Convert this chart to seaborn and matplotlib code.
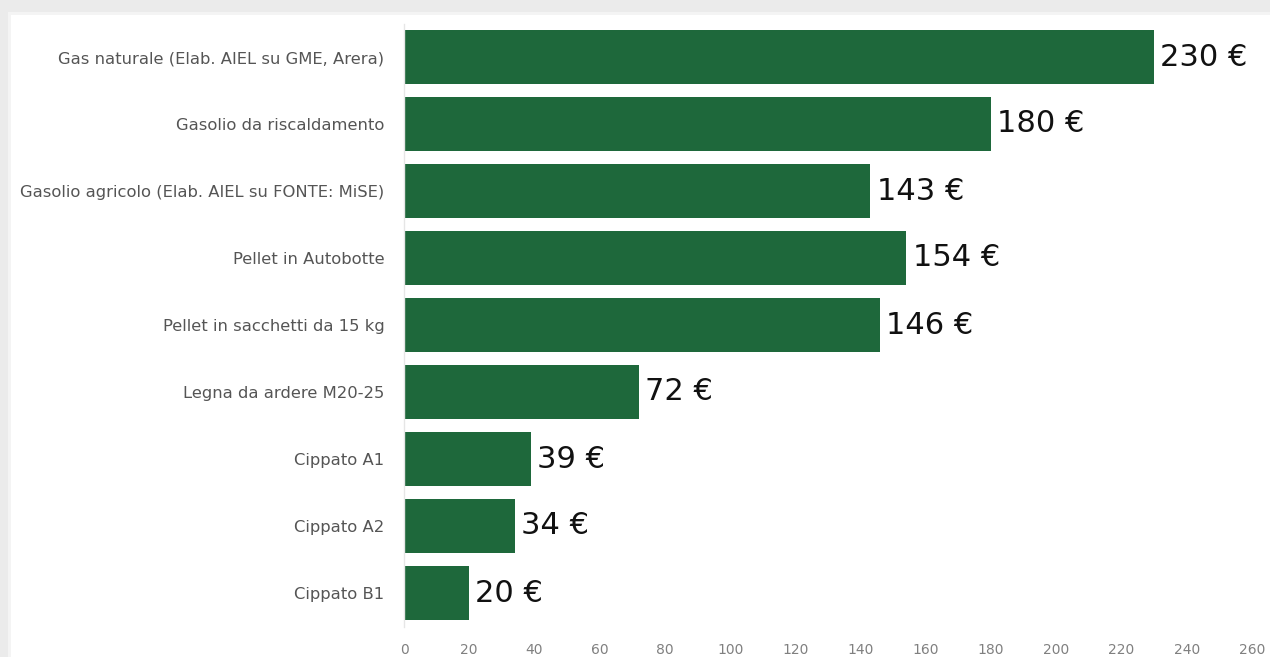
import matplotlib
matplotlib.use("Agg")
import matplotlib.pyplot as plt
import seaborn as sns
import pandas as pd
from matplotlib.patches import Rectangle

categories = [
    "Gas naturale (Elab. AIEL su GME, Arera)",
    "Gasolio da riscaldamento",
    "Gasolio agricolo (Elab. AIEL su FONTE: MiSE)",
    "Pellet in Autobotte",
    "Pellet in sacchetti da 15 kg",
    "Legna da ardere M20-25",
    "Cippato A1",
    "Cippato A2",
    "Cippato B1",
]
values = [230, 180, 143, 154, 146, 72, 39, 34, 20]
xticks = list(range(0, 261, 20))

df = pd.DataFrame({"cat": categories, "val": values})

sns.set_theme(style="white")
plt.rcParams["font.family"] = ["DejaVu Sans"]

W, H = 1270, 657
fig = plt.figure(figsize=(W / 100, H / 100), dpi=100, facecolor="#ebebeb")
# card background
fig.patches.append(Rectangle((8 / W, 0), 1, 1 - 12 / H, transform=fig.transFigure,
                             facecolor="#f4f4f4", edgecolor="none", zorder=-2))
fig.patches.append(Rectangle((11 / W, 0), 1, 1 - 15 / H, transform=fig.transFigure,
                             facecolor="white", edgecolor="none", zorder=-1))

ax = fig.add_axes([404 / W, 1 - 626.5 / H, (1252 - 404) / W, (626.5 - 23.5) / H])
ax.set_facecolor("none")

sns.barplot(data=df, y="cat", x="val", color="#1e683b", orient="h", width=0.82,
            saturation=1, linewidth=0, ax=ax)

for c in ax.containers:
    ax.bar_label(c, labels=[f"{v} €" for v in values], padding=4.5,
                 fontsize=22, color="#111111")

ax.set_xlim(0, 260)
ax.set_xticks(xticks)
ax.set_xticklabels([str(t) for t in xticks])
ax.set_xlabel("")
ax.set_ylabel("")
ax.tick_params(axis="x", length=0, pad=12, labelsize=10, labelcolor="#808080")
ax.tick_params(axis="y", length=0, pad=14, labelsize=11.8, labelcolor="#555555")
for s in ["top", "right", "bottom"]:
    ax.spines[s].set_visible(False)
ax.spines["left"].set_color("#e6e6e6")
ax.spines["left"].set_linewidth(1)

fig.savefig("out.png", dpi=100, facecolor=fig.get_facecolor())
